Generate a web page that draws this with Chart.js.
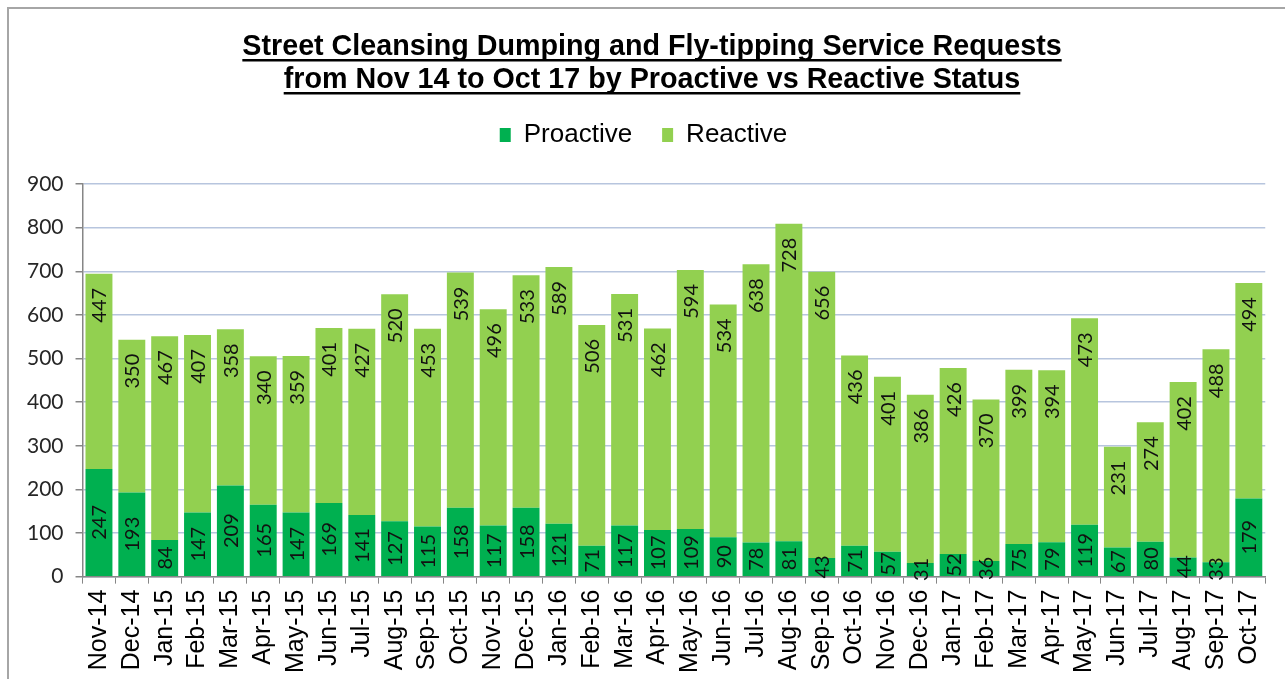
<!DOCTYPE html>
<html>
<head>
<meta charset="utf-8">
<script src="https://cdn.jsdelivr.net/npm/chart.js@4.4.1/dist/chart.umd.min.js"></script>
<style>
  html, body { margin: 0; padding: 0; background: #fff; }
  #wrap { width: 1285px; height: 679px; position: relative; }
</style>
</head>
<body>
<div id="wrap"><canvas id="myChart"></canvas></div>
<script>
const months = ['Nov-14','Dec-14','Jan-15','Feb-15','Mar-15','Apr-15','May-15','Jun-15','Jul-15','Aug-15','Sep-15','Oct-15',
  'Nov-15','Dec-15','Jan-16','Feb-16','Mar-16','Apr-16','May-16','Jun-16','Jul-16','Aug-16','Sep-16','Oct-16',
  'Nov-16','Dec-16','Jan-17','Feb-17','Mar-17','Apr-17','May-17','Jun-17','Jul-17','Aug-17','Sep-17','Oct-17'];
const proactive = [247,193,84,147,209,165,147,169,141,127,115,158,117,158,121,71,117,107,109,90,78,81,43,71,57,31,52,36,75,79,119,67,80,44,33,179];
const reactive = [447,350,467,407,358,340,359,401,427,520,453,539,496,533,589,506,531,462,594,534,638,728,656,436,401,386,426,370,399,394,473,231,274,402,488,494];
const yTicks = [0,100,200,300,400,500,600,700,800,900];

const titleLines = ['Street Cleansing Dumping and Fly-tipping Service Requests',
  'from Nov 14 to Oct 17 by Proactive vs Reactive Status'];

// frame + underlined title
const frameTitle = {
  id: 'frameTitle',
  beforeDraw(chart) {
    const c = chart.ctx;
    c.save();
    c.fillStyle = '#fff';
    c.fillRect(0, 0, chart.width, chart.height);
    c.strokeStyle = '#a6a6a6';
    c.lineWidth = 2;
    c.strokeRect(8, 8, chart.width + 20, chart.height + 20);
    c.restore();
  },
  afterDraw(chart) {
    const c = chart.ctx;
    c.save();
    c.font = 'bold 28.7px "Liberation Sans", Arial, sans-serif';
    c.fillStyle = '#000';
    c.textAlign = 'center';
    c.textBaseline = 'alphabetic';
    const cx = 652;
    const ys = [55, 88];
    titleLines.forEach((t, i) => {
      c.fillText(t, cx, ys[i]);
      const w = c.measureText(t).width;
      c.fillRect(cx - w / 2, ys[i] + 4, w, 2.5);
    });
    c.restore();
  }
};

// extra space under the legend
const legendGap = {
  id: 'legendGap',
  beforeInit(chart) {
    const fit = chart.legend.fit;
    chart.legend.fit = function () {
      fit.bind(chart.legend)();
      this.height += 26;
    };
  }
};

// rotated value labels
const barLabels = {
  id: 'barLabels',
  afterDatasetsDraw(chart) {
    const c = chart.ctx;
    c.save();
    c.font = '20px Lato, "Open Sans", sans-serif';
    c.fillStyle = '#111';
    c.textBaseline = 'middle';
    chart.data.datasets.forEach((ds, di) => {
      const meta = chart.getDatasetMeta(di);
      meta.data.forEach((bar, i) => {
        const v = ds.data[i];
        c.save();
        if (di === 0) {
          c.translate(bar.x, (bar.y + bar.base) / 2);
          c.rotate(-Math.PI / 2);
          c.textAlign = 'center';
        } else {
          c.translate(bar.x, bar.y + 14);
          c.rotate(-Math.PI / 2);
          c.textAlign = 'right';
        }
        c.fillText(String(v), 0, 1);
        c.restore();
      });
    });
    c.restore();
  }
};

new Chart(document.getElementById('myChart'), {
  type: 'bar',
  data: {
    labels: months,
    datasets: [
      { label: 'Proactive', data: proactive, backgroundColor: '#00b050', barPercentage: 0.82, categoryPercentage: 1.0 },
      { label: 'Reactive', data: reactive, backgroundColor: '#92d050', barPercentage: 0.82, categoryPercentage: 1.0 }
    ]
  },
  options: {
    responsive: true,
    maintainAspectRatio: false,
    animation: false,
    layout: { padding: { top: 92, left: 15, right: 13, bottom: 0 } },
    plugins: {
      title: { display: false },
      tooltip: { enabled: false },
      legend: {
        position: 'top',
        labels: {
          boxWidth: 11,
          boxHeight: 14,
          padding: 30,
          color: '#000',
          font: { family: '"Liberation Sans", Arial, sans-serif', size: 26 }
        }
      }
    },
    scales: {
      x: {
        stacked: true,
        grid: { offset: true, drawOnChartArea: false, drawTicks: true, tickLength: 7, tickColor: '#868686' },
        border: { color: '#868686', width: 1.5 },
        ticks: {
          color: '#000',
          minRotation: 90,
          maxRotation: 90,
          autoSkip: false,
          padding: 6,
          font: { family: '"Liberation Sans", Arial, sans-serif', size: 25 }
        }
      },
      y: {
        stacked: true,
        min: 0,
        max: 900,
        afterBuildTicks(axis) { axis.ticks = yTicks.map(v => ({ value: v })); },
        grid: { color: '#b7c5de', lineWidth: 1.5, tickLength: 7, tickColor: '#868686' },
        border: { color: '#868686', width: 1.5 },
        ticks: {
          color: '#262626',
          padding: 12,
          font: { family: 'Lato, "Open Sans", sans-serif', size: 21 }
        }
      }
    }
  },
  plugins: [frameTitle, legendGap, barLabels]
});
</script>
</body>
</html>
